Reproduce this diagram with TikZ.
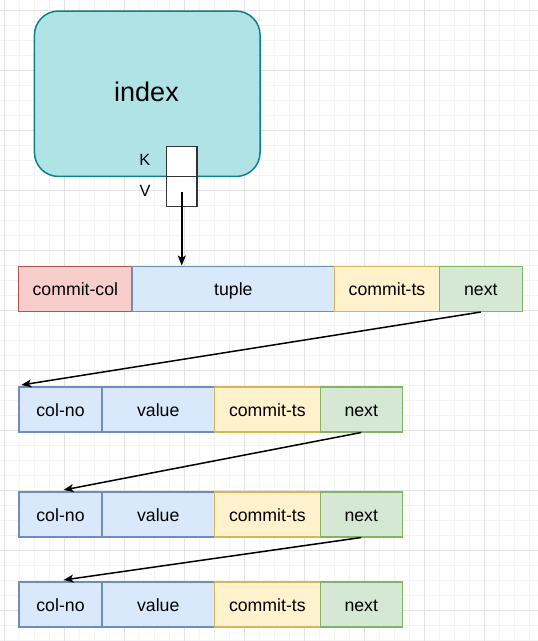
\documentclass[tikz,border=0pt]{standalone}
\usepackage{fontspec}
\setmainfont{Liberation Sans}
\usetikzlibrary{arrows.meta,calc}
\definecolor{gmin}{HTML}{F4F4F4}
\definecolor{gmaj}{HTML}{E3E3E3}
\definecolor{redF}{HTML}{F8CECC}\definecolor{redS}{HTML}{B85450}
\definecolor{bluF}{HTML}{DAE8FC}\definecolor{bluS}{HTML}{6C8EBF}
\definecolor{yelF}{HTML}{FFF2CC}\definecolor{yelS}{HTML}{D6B656}
\definecolor{grnF}{HTML}{D5E8D4}\definecolor{grnS}{HTML}{82B366}
\definecolor{tealF}{HTML}{B0E3E6}\definecolor{tealS}{HTML}{0E8088}
\definecolor{kvS}{HTML}{333333}
\tikzset{
  cell/.style={draw, line width=1.5pt, anchor=north west, inner sep=0pt,
    minimum height=45pt, text height=14pt, text depth=0pt,
    font=\fontsize{17.7}{20}\selectfont},
  redc/.style={cell, fill=redF, draw=redS},
  bluc/.style={cell, fill=bluF, draw=bluS},
  yelc/.style={cell, fill=yelF, draw=yelS},
  grnc/.style={cell, fill=grnF, draw=grnS},
  kvbox/.style={draw=kvS, fill=white, line width=1.5pt, anchor=north west, inner sep=0pt,
    minimum width=30.6pt, minimum height=30pt},
  kvlab/.style={inner sep=0pt, text height=11.7pt, text depth=0pt,
    font=\fontsize{16.3}{18}\selectfont},
  link/.style={line width=1.5pt, -{Stealth[length=10pt,width=8pt,inset=2.5pt]}},
}
\begin{document}
\begin{tikzpicture}[x=1pt,y=-1pt]
\useasboundingbox (0,0) rectangle (538,641);
\fill[white] (0,0) rectangle (538,641);
% grid
\foreach \i in {0,...,36} {
  \pgfmathsetmacro\gx{4.3+15*\i}
  \draw[gmin, line width=1pt] (\gx,0) -- (\gx,641);
}
\foreach \i in {0,...,42} {
  \pgfmathsetmacro\gy{10.3+15*\i}
  \draw[gmin, line width=1pt] (0,\gy) -- (538,\gy);
}
\foreach \i in {0,...,9} {
  \pgfmathsetmacro\gx{4.3+60*\i}
  \draw[gmaj, line width=1pt] (\gx,0) -- (\gx,641);
}
\foreach \i in {0,...,10} {
  \pgfmathsetmacro\gy{10.3+60*\i}
  \draw[gmaj, line width=1pt] (0,\gy) -- (538,\gy);
}
% index
\node[draw=tealS, fill=tealF, line width=1.5pt, rounded corners=24pt, anchor=north west,
  inner sep=0pt, minimum width=225.6pt, minimum height=165.4pt] (idx) at (33.7,10.3) {};
\node[inner sep=0pt, text height=17.4pt, text depth=0pt,
  font=\fontsize{27}{30}\selectfont] (idxlab) at (146.5,93) {index};
\node[kvbox] (kb) at (165.7,145.7) {};
\node[kvbox] (vb) at (165.7,175.7) {};
\node[kvlab] (kl) at (144.8,160) {K};
\node[kvlab] (vl) at (145,190.5) {V};
% row 1
\node[redc, minimum width=113.6pt] (r1a) at (17.8,265.5) {commit-col};
\node[bluc, minimum width=202.5pt] (r1b) at (131.4,265.5) {tuple};
\node[yelc, minimum width=104.7pt] (r1c) at (333.9,265.5) {commit-ts};
\node[grnc, minimum width=83pt] (r1d) at (438.6,265.5) {next};
% rows 2-4
\foreach \r/\yy in {2/386, 3/491, 4/581} {
  \node[bluc, minimum width=82.9pt] (r\r a) at (18.3,\yy) {col-no};
  \node[bluc, minimum width=112.6pt] (r\r b) at (101.2,\yy) {value};
  \node[yelc, minimum width=105.7pt] (r\r c) at (213.8,\yy) {commit-ts};
  \node[grnc, minimum width=82pt] (r\r d) at (319.5,\yy) {next};
}
% connectors
\coordinate (vc) at ($(vb.center)+(0,0.5)$);
\draw[link] (vc) -- (vc |- r1b.north);
\draw[link] (r1d.south) -- ($(r2a.north west)+(3,-1)$);
\draw[link] (r2d.south) -- ($(r3a.north)+(3,-1)$);
\draw[link] (r3d.south) -- ($(r4a.north)+(3,-1)$);
\end{tikzpicture}
\end{document}
